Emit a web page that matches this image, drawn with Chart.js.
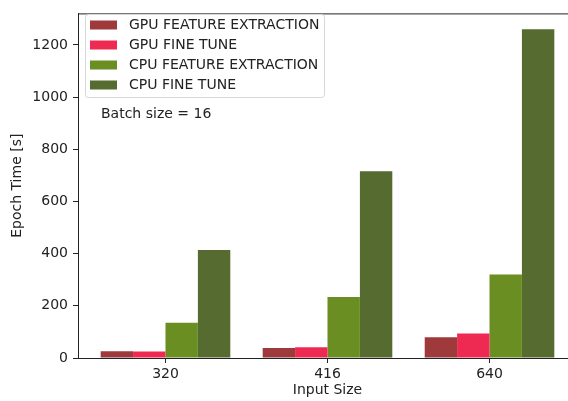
<!DOCTYPE html>
<html>
<head>
<meta charset="utf-8">
<script src="https://cdn.jsdelivr.net/npm/chart.js@4/dist/chart.umd.min.js"></script>
<style>
  html, body { margin: 0; padding: 0; background: #fff; overflow: hidden; }
  #wrap { width: 590px; height: 401px; }
</style>
</head>
<body>
<div id="wrap"><canvas id="c" width="590" height="401"></canvas></div>
<script>
// Epoch time per input size, batch size 16
const inputSizes = ['320', '416', '640'];
const gpuFeatureExtraction = [26, 38, 80];
const gpuFineTune = [25, 41, 94];
const cpuFeatureExtraction = [135, 234, 320];
const cpuFineTune = [414, 716, 1260];
const yTicks = [0, 200, 400, 600, 800, 1000, 1200];

const seriesNames = ['GPU FEATURE EXTRACTION', 'GPU FINE TUNE', 'CPU FEATURE EXTRACTION', 'CPU FINE TUNE'];
const seriesColors = ['#9f3a3c', '#ef2a52', '#6b8e23', '#556b2f'];
const seriesValues = [gpuFeatureExtraction, gpuFineTune, cpuFeatureExtraction, cpuFineTune];

const FONT = 'DejaVu Sans';
const FS = 14;
const TEXT = '#222';

const datasets = seriesValues.map((vals, i) => ({
  label: seriesNames[i],
  data: vals.map((v, k) => ({ x: k, y: v })),
  backgroundColor: seriesColors[i],
  borderWidth: 0,
  categoryPercentage: 0.8,
  barPercentage: 1.0
}));

// Frame line on top, legend box and annotation text
const decorations = {
  id: 'decorations',
  afterDraw(chart) {
    const { ctx, chartArea: a } = chart;
    ctx.save();
    ctx.strokeStyle = '#222';
    ctx.lineWidth = 1;
    ctx.beginPath();
    ctx.moveTo(a.left, a.top + 0.5);
    ctx.lineTo(a.right, a.top + 0.5);
    ctx.stroke();

    // legend
    const lx = 85.5, ly = 14.5, lw = 239, lh = 83, r = 3;
    ctx.fillStyle = 'rgba(255,255,255,0.85)';
    ctx.strokeStyle = '#d6d6d6';
    ctx.beginPath();
    ctx.moveTo(lx + r, ly);
    ctx.lineTo(lx + lw - r, ly);
    ctx.arcTo(lx + lw, ly, lx + lw, ly + r, r);
    ctx.lineTo(lx + lw, ly + lh - r);
    ctx.arcTo(lx + lw, ly + lh, lx + lw - r, ly + lh, r);
    ctx.lineTo(lx + r, ly + lh);
    ctx.arcTo(lx, ly + lh, lx, ly + lh - r, r);
    ctx.lineTo(lx, ly + r);
    ctx.arcTo(lx, ly, lx + r, ly, r);
    ctx.closePath();
    ctx.fill();
    ctx.stroke();

    ctx.font = FS + 'px "' + FONT + '"';
    ctx.textBaseline = 'middle';
    ctx.textAlign = 'left';
    chart.data.datasets.forEach((ds, i) => {
      const cy = 25 + i * 20;
      ctx.fillStyle = ds.backgroundColor;
      ctx.fillRect(90, cy - 4.5, 27, 9);
      ctx.fillStyle = TEXT;
      ctx.fillText(ds.label, 129, cy + 0.5);
    });

    ctx.fillText('Batch size = 16', 101, 114.5);
    ctx.restore();
  }
};

new Chart(document.getElementById('c'), {
  type: 'bar',
  data: { datasets },
  options: {
    responsive: false,
    animation: false,
    layout: { padding: { top: 8, right: 13, left: 0, bottom: 0 } },
    plugins: { legend: { display: false }, tooltip: { enabled: false } },
    scales: {
      x: {
        type: 'linear',
        offset: false,
        min: -0.54,
        max: 2.54,
        afterBuildTicks(scale) {
          scale.ticks = inputSizes.map((_, k) => ({ value: k }));
        },
        afterFit(scale) { scale.height = 43; },
        ticks: {
          callback: (v) => inputSizes[v],
          font: { family: FONT, size: FS },
          color: TEXT,
          padding: 3,
          maxRotation: 0
        },
        grid: {
          offset: false,
          drawOnChartArea: false,
          drawTicks: true,
          tickLength: 5,
          color: '#222',
          lineWidth: 1
        },
        border: { display: true, color: '#222', width: 1 },
        title: {
          display: true,
          text: 'Input Size',
          font: { family: FONT, size: FS },
          color: TEXT,
          padding: { top: 0, bottom: 2 }
        }
      },
      y: {
        min: 0,
        max: 1321,
        afterBuildTicks(scale) {
          scale.ticks = yTicks.map(v => ({ value: v }));
        },
        afterFit(scale) { scale.width = 78; },
        ticks: {
          callback: (v) => String(v),
          font: { family: FONT, size: FS },
          color: TEXT,
          padding: 5
        },
        grid: {
          offset: false,
          drawOnChartArea: false,
          drawTicks: true,
          tickLength: 5,
          color: '#222',
          lineWidth: 1
        },
        border: { display: true, color: '#222', width: 1 },
        title: {
          display: true,
          text: 'Epoch Time [s]',
          font: { family: FONT, size: FS },
          color: TEXT,
          padding: { top: 9, bottom: 0 }
        }
      }
    }
  },
  plugins: [decorations]
});
</script>
</body>
</html>
